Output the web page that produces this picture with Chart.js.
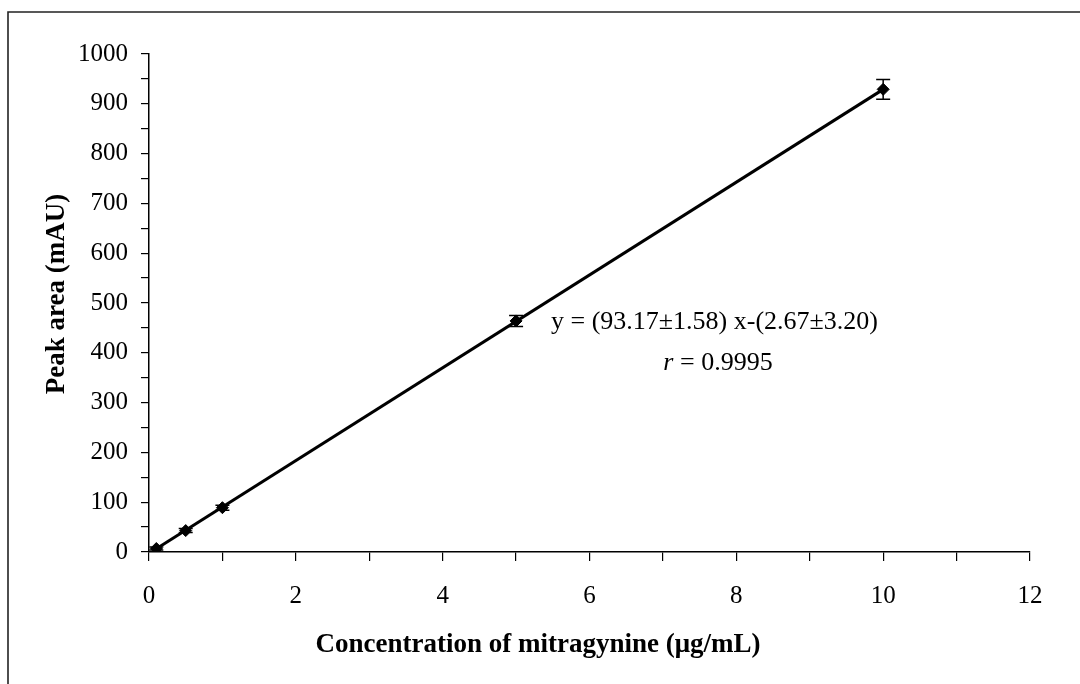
<!DOCTYPE html>
<html>
<head>
  <title>Peak area vs concentration</title>
  <script src="https://cdn.jsdelivr.net/npm/chart.js"></script>
  <style>
    body { margin: 0; background: #fff; }
  </style>
</head>
<body>
  <canvas id="calChart" width="1080" height="684"></canvas>
  <script>
    // calibration standards (µg/mL) and mean peak areas
    var concentrations = [0.1, 0.5, 1, 5, 10];
    var peakAreas = [7, 43, 89, 464, 929];
    var peakErrors = [3, 4, 5, 11, 20];

    // linear fit drawn between the lowest and highest standard
    var fitX = [0.1, 10];
    var fitY = [6.6, 929.0];

    var xTitle = 'Concentration of mitragynine (\u03bcg/mL)';
    var yTitle = 'Peak area (mAU)';
    var equationText = 'y = (93.17\u00b11.58) x-(2.67\u00b13.20)';
    var rValueText = ' = 0.9995';

    var serif = '"Liberation Serif", "Times New Roman", serif';

    // outer frame, only top and left edges are on the canvas
    var framePlugin = {
      id: 'frame',
      beforeDraw: function (chart) {
        var ctx = chart.ctx;
        ctx.save();
        ctx.strokeStyle = '#222';
        ctx.lineWidth = 1.6;
        ctx.beginPath();
        ctx.moveTo(8, 684);
        ctx.lineTo(8, 12);
        ctx.lineTo(1080, 12);
        ctx.stroke();
        ctx.restore();
      }
    };

    // vertical error bars with caps
    var errorBarPlugin = {
      id: 'errorBars',
      afterDatasetsDraw: function (chart) {
        var ctx = chart.ctx;
        var xs = chart.scales.x, ys = chart.scales.y;
        ctx.save();
        ctx.strokeStyle = '#000';
        ctx.lineWidth = 1.5;
        for (var i = 0; i < concentrations.length; i++) {
          var px = xs.getPixelForValue(concentrations[i]);
          var top = ys.getPixelForValue(peakAreas[i] + peakErrors[i]);
          var bot = ys.getPixelForValue(peakAreas[i] - peakErrors[i]);
          ctx.beginPath();
          ctx.moveTo(px, top); ctx.lineTo(px, bot);
          ctx.moveTo(px - 7, top); ctx.lineTo(px + 7, top);
          ctx.moveTo(px - 7, bot); ctx.lineTo(px + 7, bot);
          ctx.stroke();
        }
        ctx.restore();
      }
    };

    // axis titles, regression equation and correlation coefficient
    var textPlugin = {
      id: 'texts',
      afterDraw: function (chart) {
        var ctx = chart.ctx;
        ctx.save();
        ctx.fillStyle = '#000';
        ctx.textBaseline = 'middle';

        ctx.font = 'bold 27px ' + serif;
        ctx.textAlign = 'center';
        ctx.fillText(xTitle, 538, 645);

        ctx.save();
        ctx.translate(57, 294);
        ctx.rotate(-Math.PI / 2);
        ctx.fillText(yTitle, 0, 0);
        ctx.restore();

        ctx.font = '26px ' + serif;
        ctx.textAlign = 'left';
        ctx.fillText(equationText, 551, 322);

        ctx.font = 'italic 26px ' + serif;
        var rW = ctx.measureText('r').width;
        ctx.font = '26px ' + serif;
        var restW = ctx.measureText(rValueText).width;
        var startX = 718 - (rW + restW) / 2;
        ctx.font = 'italic 26px ' + serif;
        ctx.fillText('r', startX, 363);
        ctx.font = '26px ' + serif;
        ctx.fillText(rValueText, startX + rW, 363);
        ctx.restore();
      }
    };

    var ctx = document.getElementById('calChart').getContext('2d');
    var chart = new Chart(ctx, {
      type: 'scatter',
      data: {
        datasets: [{
          label: 'Fit',
          type: 'line',
          data: fitX.map(function (x, i) { return { x: x, y: fitY[i] }; }),
          borderColor: '#000',
          borderWidth: 3,
          pointRadius: 0,
          fill: false
        }, {
          label: 'Standards',
          data: concentrations.map(function (x, i) { return { x: x, y: peakAreas[i] }; }),
          pointStyle: 'rectRot',
          pointRadius: 6,
          backgroundColor: '#000',
          borderColor: '#000',
          borderWidth: 1
        }]
      },
      options: {
        responsive: false,
        animation: false,
        layout: { padding: { top: 54, right: 50, left: 0, bottom: 0 } },
        plugins: {
          legend: { display: false },
          tooltip: { enabled: false }
        },
        scales: {
          x: {
            type: 'linear',
            min: 0,
            max: 12,
            afterFit: function (scale) { scale.height = 132; },
            border: { color: '#000', width: 1.5 },
            grid: { drawOnChartArea: false, drawTicks: true, tickLength: 9, color: '#000', lineWidth: 1.2 },
            ticks: {
              stepSize: 1,
              color: '#000',
              padding: 20,
              maxRotation: 0,
              autoSkip: false,
              font: { family: serif, size: 25 },
              callback: function (v) { return v % 2 === 0 ? v : ''; }
            }
          },
          y: {
            type: 'linear',
            min: 0,
            max: 1000,
            afterFit: function (scale) { scale.width = 149; },
            border: { color: '#000', width: 1.5 },
            grid: { drawOnChartArea: false, drawTicks: true, tickLength: 8, color: '#000', lineWidth: 1.2 },
            ticks: {
              stepSize: 50,
              color: '#000',
              padding: 13,
              autoSkip: false,
              font: { family: serif, size: 25 },
              callback: function (v) { return v % 100 === 0 ? v : ''; }
            }
          }
        }
      },
      plugins: [framePlugin, errorBarPlugin, textPlugin]
    });
  </script>
</body>
</html>
